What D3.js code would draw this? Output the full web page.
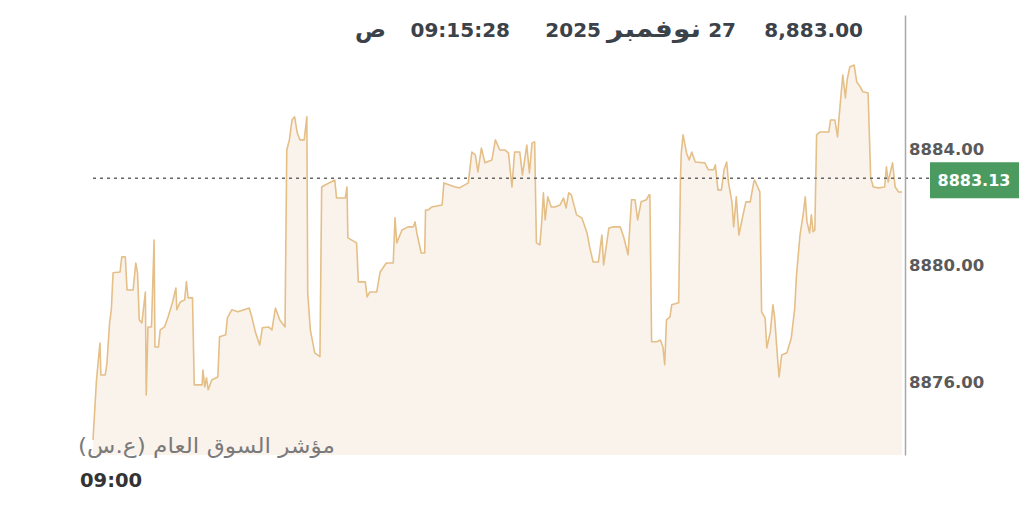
<!doctype html>
<html lang="ar">
<head>
  <meta charset="utf-8">
  <title>مؤشر السوق العام</title>
  <style>
    body { margin: 0; background: #fff; }
    svg { display: block; font-family: "DejaVu Sans", "Noto Sans", sans-serif; }
  </style>
</head>
<body>
<div id="chart"></div>
<script src="https://d3js.org/d3.v7.min.js"></script>
<script>
// seconds after 09:00:00 and index value at that time
var secs = [0,4,8,9,14,16,19,21,23,31,33,37,39,46,49,51,53,56,60,61,63,67,70,71,75,77,82,86,91,95,96,100,105,107,109,114,
  116,125,126,128,130,132,136,143,145,152,154,159,166,173,179,182,186,191,194,201,205,209,214,220,222,225,228,231,234,237,242,245,
  246,249,254,260,262,266,277,279,289,291,292,302,304,312,314,317,325,329,336,344,346,348,354,361,367,369,371,376,380,381,384,388,
  400,402,415,420,430,434,438,441,445,449,457,461,466,472,476,480,483,489,492,497,500,503,506,508,512,514,516,518,521,525,529,535,
  539,542,545,548,554,560,566,569,573,579,583,585,591,596,604,608,613,617,621,624,628,634,637,638,640,646,650,653,655,657,661,663,
  671,673,674,676,680,683,686,690,701,705,711,713,716,720,723,726,728,732,734,737,740,744,748,753,757,758,764,766,770,772,776,779,
  781,784,786,789,795,800,804,806,810,814,816,818,821,823,825,827,829,833,843,845,850,853,855,859,862,864,867,872,875,879,882,888,
  891,894,900,907,909,911,916,919,923,927];
var vals = [8874.14,8876.20,8877.47,8876.37,8876.37,8876.78,8878.16,8878.61,8879.88,8879.91,8880.43,8880.43,8879.29,8879.29,8880.22,
  8879.88,8878.26,8878.16,8879.22,8875.68,8878.02,8878.02,8881.01,8877.33,8877.33,8877.92,8878.02,8878.36,8878.85,8879.36,8878.61,
  8878.88,8878.95,8879.57,8879.02,8879.02,8876.03,8876.03,8876.54,8875.96,8876.27,8875.86,8876.20,8876.30,8877.68,8877.75,8878.33,
  8878.61,8878.54,8878.61,8878.67,8878.36,8877.85,8877.40,8877.99,8878.02,8877.92,8878.67,8878.26,8878.02,8884.10,8884.45,8885.13,
  8885.24,8884.69,8884.45,8884.45,8885.24,8879.19,8877.92,8877.13,8877.00,8882.83,8882.90,8883.07,8882.45,8882.45,8882.83,8881.08,
  8880.91,8879.57,8879.57,8879.05,8879.22,8879.22,8879.91,8880.22,8880.22,8881.77,8880.91,8881.35,8881.46,8881.46,8881.63,8881.25,
  8880.56,8880.56,8882.04,8882.04,8882.14,8882.21,8882.97,8882.83,8882.80,8882.97,8884.03,8883.93,8883.35,8884.17,8883.66,8883.76,
  8884.45,8884.10,8884.10,8884.00,8882.83,8884.03,8884.03,8883.24,8884.27,8883.31,8884.34,8884.38,8880.91,8880.84,8881.59,8882.63,
  8881.70,8882.49,8882.14,8882.14,8882.21,8882.45,8882.11,8882.63,8882.56,8881.87,8881.77,8881.25,8880.77,8880.25,8880.25,8881.18,
  8880.15,8881.42,8881.46,8881.46,8881.11,8880.50,8882.39,8882.39,8881.70,8882.32,8882.39,8882.56,8882.56,8877.51,8877.51,8877.57,
  8877.33,8876.72,8878.26,8878.36,8878.78,8878.85,8883.07,8884.00,8884.62,8884.00,8883.76,8884.03,8883.69,8883.66,8883.42,8883.42,
  8883.59,8882.73,8882.73,8883.42,8883.69,8883.00,8882.32,8881.46,8882.49,8881.18,8881.77,8882.32,8882.32,8883.00,8883.07,8882.66,
  8878.54,8878.33,8877.30,8877.85,8878.78,8878.33,8877.06,8876.30,8877.06,8877.13,8877.64,8878.67,8879.81,8881.18,8881.97,8882.49,
  8881.63,8881.25,8881.87,8881.29,8881.35,8884.62,8884.72,8884.72,8885.13,8885.13,8884.55,8885.31,8886.68,8885.89,8886.51,8886.95,
  8887.02,8886.44,8886.27,8886.10,8886.06,8883.14,8882.83,8882.80,8882.83,8883.52,8883.00,8883.66,8882.83,8882.66,8882.66];
var yTicks = [8876, 8880, 8884];
var xTickLabel = "09:00";
var lastValue = 8883.13;
var headerValue = "8,883.00";
var headerDay = "27";
var headerMonth = "نوفمبر";
var headerYear = "2025";
var headerTime = "09:15:28";
var headerPeriod = "ص";
var indexName = "مؤشر السوق العام (ع.س)";

var W = 1024, H = 511;
var plotL = 93, plotR = 905, plotT = 15, plotB = 455;

var svg = d3.select("#chart").append("svg").attr("width", W).attr("height", H);

var t0 = new Date(2025, 10, 27, 9, 0, 0);
var data = secs.map(function(s, i) { return {t: new Date(t0.getTime() + s * 1000), v: vals[i]}; });

var x = d3.scaleTime()
  .domain([t0, new Date(t0.getTime() + 928 * 1000)])
  .range([plotL, 903]);
var y = d3.scaleLinear()
  .domain([8873.62, 8888.74])
  .range([plotB, plotT]);

var area = d3.area()
  .x(function(d) { return x(d.t); })
  .y0(plotB)
  .y1(function(d) { return y(d.v); });
var line = d3.line()
  .x(function(d) { return x(d.t); })
  .y(function(d) { return y(d.v); });

svg.append("path").datum(data)
  .attr("d", area)
  .attr("fill", "#faf3ec");

svg.append("path").datum(data)
  .attr("d", line)
  .attr("fill", "none")
  .attr("stroke", "#e5bf88")
  .attr("stroke-width", 1.6)
  .attr("stroke-linejoin", "round");

// last value dotted line
svg.append("line")
  .attr("x1", plotL).attr("x2", 932)
  .attr("y1", y(lastValue)).attr("y2", y(lastValue))
  .attr("stroke", "#666").attr("stroke-width", 1.6)
  .attr("stroke-dasharray", "3,4");

// right axis
var yAxis = d3.axisRight(y).tickValues(yTicks).tickSize(0).tickPadding(4)
  .tickFormat(function(d) { return d3.format(".2f")(d); });
var ya = svg.append("g").attr("transform", "translate(" + plotR + ",0)").call(yAxis);
ya.select(".domain").attr("stroke", "#a8a8a8").attr("stroke-width", 1.5);
ya.selectAll("text")
  .attr("dy", "0.1em")
  .attr("font-size", 16.5).attr("font-weight", "bold")
  .attr("font-family", "'DejaVu Sans', sans-serif")
  .attr("fill", "#5a5a5a");

// last value badge
var badgeY = y(lastValue);
svg.append("rect")
  .attr("x", 930).attr("y", badgeY - 16)
  .attr("width", 89).attr("height", 36)
  .attr("fill", "#4b9a5f");
svg.append("text")
  .attr("x", 974).attr("y", badgeY + 2)
  .attr("dy", "0.35em")
  .attr("text-anchor", "middle")
  .attr("font-size", 16).attr("font-weight", "bold")
  .attr("fill", "#fff")
  .text(d3.format(".2f")(lastValue));

// x label
svg.append("text")
  .attr("x", 80).attr("y", 487)
  .attr("font-size", 19.5).attr("font-weight", "bold")
  .attr("fill", "#333")
  .text(xTickLabel);

// index name
svg.append("text")
  .attr("x", 335).attr("y", 453)
  .attr("text-anchor", "start")
  .attr("direction", "rtl")
  .attr("font-size", 21)
  .attr("textLength", 257).attr("lengthAdjust", "spacingAndGlyphs")
  .attr("fill", "#7a7a7a")
  .text(indexName);

// header
var hdr = svg.append("g")
  .attr("font-size", 20).attr("font-weight", "bold")
  .attr("fill", "#3c424a");
hdr.append("text").attr("x", 863).attr("y", 37).attr("text-anchor", "end").text(headerValue);
hdr.append("text").attr("x", 736).attr("y", 37).attr("text-anchor", "end").text(headerDay);
hdr.append("text").attr("x", 701).attr("y", 37).attr("text-anchor", "start").attr("direction", "rtl")
  .attr("font-size", 24).attr("textLength", 94).attr("lengthAdjust", "spacingAndGlyphs").text(headerMonth);
hdr.append("text").attr("x", 601).attr("y", 37).attr("text-anchor", "end").text(headerYear);
hdr.append("text").attr("x", 510).attr("y", 37).attr("text-anchor", "end").text(headerTime);
hdr.append("text").attr("x", 386).attr("y", 37).attr("text-anchor", "start").attr("direction", "rtl")
  .attr("font-size", 23).text(headerPeriod);
</script>
</body>
</html>
